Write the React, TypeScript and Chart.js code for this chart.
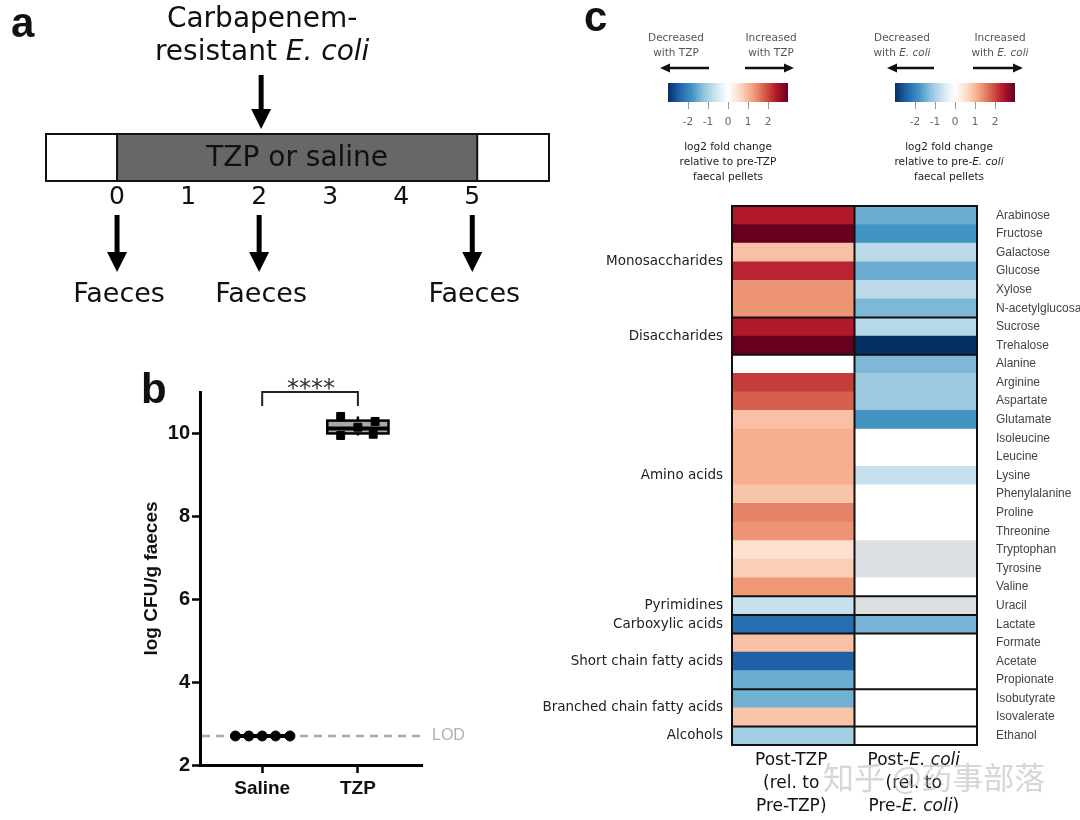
import React, { useEffect, useRef } from 'react';
import { Chart, registerables } from 'chart.js';

Chart.register(...registerables);

// ---------------- Panel a: timeline ----------------
const timelineDays = [-1, 6.08];
const dayTicks = [0, 1, 2, 3, 4, 5];
const treatmentPeriod = [0, 5.07];
const treatmentLabel = 'TZP or saline';
const infectionDay = 2;
const faecesDays = [0, 2, 5];
const faecesLabel = 'Faeces';

// ---------------- Panel b: CFU ----------------
const bGroups = ['Saline', 'TZP'];
const bGroupX = [1, 2];
const salineValues = [2.7, 2.7, 2.7, 2.7, 2.7];
const salineSpread = [-0.28, -0.14, 0, 0.14, 0.29];
const tzpValues = [10.41, 10.29, 10.15, 9.95, 9.98];
const tzpSpread = [-0.18, 0.18, 0, -0.18, 0.16];
// min, q1, median, q3, max
const salineBox = [2.7, 2.7, 2.7, 2.7, 2.7];
const tzpBox = [9.95, 10.0, 10.12, 10.31, 10.41];
const lodLevel = 2.7;
const bYTicks = [2, 4, 6, 8, 10];
const bYRange = [2, 11];
const bXRange = [0.35, 2.67];
const sigLabel = '****';

// ---------------- Panel c: heatmap ----------------
const metabolites = ['Arabinose', 'Fructose', 'Galactose', 'Glucose', 'Xylose', 'N-acetylglucosamine', 'Sucrose', 'Trehalose', 'Alanine', 'Arginine', 'Aspartate', 'Glutamate', 'Isoleucine', 'Leucine', 'Lysine', 'Phenylalanine', 'Proline', 'Threonine', 'Tryptophan', 'Tyrosine', 'Valine', 'Uracil', 'Lactate', 'Formate', 'Acetate', 'Propionate', 'Isobutyrate', 'Isovalerate', 'Ethanol'];
const postTZP = [2.4, 3.0, 0.9, 2.3, 1.35, 1.35, 2.4, 3.0, 0, 2.1, 1.8, 0.9, 1.1, 1.1, 1.1, 0.85, 1.5, 1.35, 0.5, 0.75, 1.3, -0.7, -2.3, 0.9, -2.45, -1.5, -1.45, 0.85, -1.05];
const postEcoli: (number | null)[] = [-1.5, -1.8, -0.8, -1.5, -0.8, -1.35, -0.85, -3.0, -1.35, -1.1, -1.1, -1.8, 0, 0, -0.7, 0, 0, 0, null, null, 0, null, -1.4, 0, 0, 0, 0, 0, 0];
const classNames = ['Monosaccharides', 'Disaccharides', 'Amino acids', 'Pyrimidines', 'Carboxylic acids', 'Short chain fatty acids', 'Branched chain fatty acids', 'Alcohols'];
const classSizes = [6, 2, 13, 1, 1, 3, 2, 1];
const colorbarRange = [-3, 3];
const colorbarTicks = [-2, -1, 0, 1, 2];
const watermark = '知乎 @药事部落';

const RDBU_R = ['#053061', '#2166ac', '#4393c3', '#92c5de', '#d1e5f0', '#ffffff', '#fddbc7', '#f4a582', '#d6604d', '#b2182b', '#67001f'];
const NA_COLOR = '#dde0e3';

const FV = '"DejaVu Sans"';
const FA = '"Liberation Sans"';
const W = 1080;
const H = 820;

function hexToRgb(h: string) {
  const n = parseInt(h.slice(1), 16);
  return [(n >> 16) & 255, (n >> 8) & 255, n & 255];
}
function cmap(v: number | null) {
  if (v === null || v === undefined) return NA_COLOR;
  const t = Math.max(0, Math.min(1, (v - colorbarRange[0]) / (colorbarRange[1] - colorbarRange[0]))) * (RDBU_R.length - 1);
  const i = Math.min(Math.floor(t), RDBU_R.length - 2);
  const f = t - i;
  const a = hexToRgb(RDBU_R[i]);
  const b = hexToRgb(RDBU_R[i + 1]);
  const c = a.map((av, k) => Math.round(av + (b[k] - av) * f));
  return `rgb(${c[0]},${c[1]},${c[2]})`;
}

type Part = [string, boolean?];
function drawParts(ctx: CanvasRenderingContext2D, parts: Part[], x: number, y: number, size: number, family: string, color: string, align: 'center' | 'left' | 'right' = 'center', weight = 'normal') {
  ctx.save();
  ctx.fillStyle = color;
  ctx.textBaseline = 'middle';
  ctx.textAlign = 'left';
  const fonts = parts.map((p) => `${p[1] ? 'italic ' : ''}${weight} ${size}px ${family}`);
  const widths = parts.map((p, i) => {
    ctx.font = fonts[i];
    return ctx.measureText(p[0]).width;
  });
  const total = widths.reduce((a, b) => a + b, 0);
  let cx = align === 'center' ? x - total / 2 : align === 'right' ? x - total : x;
  parts.forEach((p, i) => {
    ctx.font = fonts[i];
    ctx.fillText(p[0], cx, y);
    cx += widths[i];
  });
  ctx.restore();
}

function drawArrow(ctx: CanvasRenderingContext2D, x1: number, y1: number, x2: number, y2: number, shaft: number, headW: number, headL: number, color = '#000') {
  const ang = Math.atan2(y2 - y1, x2 - x1);
  const bx = x2 - Math.cos(ang) * headL;
  const by = y2 - Math.sin(ang) * headL;
  ctx.save();
  ctx.strokeStyle = color;
  ctx.fillStyle = color;
  ctx.lineWidth = shaft;
  ctx.beginPath();
  ctx.moveTo(x1, y1);
  ctx.lineTo(bx + Math.cos(ang), by + Math.sin(ang));
  ctx.stroke();
  const px = -Math.sin(ang) * headW / 2;
  const py = Math.cos(ang) * headW / 2;
  ctx.beginPath();
  ctx.moveTo(x2, y2);
  ctx.lineTo(bx + px, by + py);
  ctx.lineTo(bx - px, by - py);
  ctx.closePath();
  ctx.fill();
  ctx.restore();
}

const baseOpts = {
  responsive: false,
  animation: false,
  events: [],
  plugins: { legend: { display: false }, tooltip: { enabled: false } },
};

// ---------------- Panel a config ----------------
const timelinePlugin = {
  id: 'timeline',
  afterDraw(chart: any) {
    const { ctx, chartArea: ca, scales } = chart;
    const x = scales.x;
    ctx.save();
    ctx.fillStyle = '#fff';
    ctx.fillRect(ca.left, ca.top, ca.right - ca.left, ca.bottom - ca.top);
    const t0 = x.getPixelForValue(treatmentPeriod[0]);
    const t1 = x.getPixelForValue(treatmentPeriod[1]);
    ctx.fillStyle = '#676767';
    ctx.fillRect(t0, ca.top, t1 - t0, ca.bottom - ca.top);
    ctx.strokeStyle = '#111';
    ctx.lineWidth = 2;
    ctx.strokeRect(ca.left, ca.top, ca.right - ca.left, ca.bottom - ca.top);
    ctx.beginPath();
    ctx.moveTo(t0, ca.top);
    ctx.lineTo(t0, ca.bottom);
    ctx.moveTo(t1, ca.top);
    ctx.lineTo(t1, ca.bottom);
    ctx.stroke();
    ctx.restore();
    drawParts(ctx, [[treatmentLabel]], (t0 + t1) / 2, (ca.top + ca.bottom) / 2 + 1, 28, FV, '#111');

    const xi = x.getPixelForValue(infectionDay);
    drawArrow(ctx, xi + 2, ca.top - 59, xi + 2, ca.top - 5, 5, 20, 20);
    drawParts(ctx, [['Carbapenem-']], xi + 3, ca.top - 114, 28, FV, '#111');
    drawParts(ctx, [['resistant '], ['E. coli', true]], xi + 3, ca.top - 81, 28, FV, '#111');

    faecesDays.forEach((d) => {
      const xf = x.getPixelForValue(d);
      drawArrow(ctx, xf, ca.bottom + 34, xf, ca.bottom + 91, 5, 20, 20);
      drawParts(ctx, [[faecesLabel]], xf + 2, ca.bottom + 114, 27, FV, '#111');
    });

    ctx.save();
    ctx.fillStyle = '#111';
    ctx.font = `bold 42px ${FA}`;
    ctx.textBaseline = 'alphabetic';
    ctx.fillText('a', 11, 37);
    ctx.restore();
  },
};

function makeTimeline() {
  return {
    type: 'scatter',
    data: { datasets: [] },
    options: {
      ...baseOpts,
      layout: { padding: { left: 46, right: W - 549, top: 134, bottom: H - 181 - 30 } },
      scales: {
        x: {
          type: 'linear',
          min: timelineDays[0],
          max: timelineDays[1],
          afterBuildTicks: (s: any) => {
            s.ticks = dayTicks.map((v) => ({ value: v }));
          },
          afterFit: (s: any) => {
            s.height = 30;
          },
          grid: { display: false, drawTicks: false },
          border: { display: false },
          ticks: { font: { family: FV, size: 25 }, color: '#111', padding: 1, maxRotation: 0, autoSkip: false },
        },
        y: { type: 'linear', display: false, min: 0, max: 1 },
      },
    },
    plugins: [timelinePlugin],
  };
}

// ---------------- Panel b config ----------------
const cfuPlugin = {
  id: 'cfu',
  beforeDatasetsDraw(chart: any) {
    const { ctx, chartArea: ca, scales } = chart;
    const { x, y } = scales;
    ctx.save();
    const yl = y.getPixelForValue(lodLevel);
    ctx.setLineDash([8, 6]);
    ctx.strokeStyle = '#ababab';
    ctx.lineWidth = 2.5;
    ctx.beginPath();
    ctx.moveTo(ca.left + 2, yl);
    ctx.lineTo(ca.right - 2, yl);
    ctx.stroke();
    ctx.setLineDash([]);
    const boxes = [salineBox, tzpBox];
    boxes.forEach((bx, gi) => {
      const cx = bGroupX[gi];
      const xl = x.getPixelForValue(cx - 0.32);
      const xr = x.getPixelForValue(cx + 0.32);
      const xc = x.getPixelForValue(cx);
      const [mn, q1, md, q3, mx] = bx.map((v) => y.getPixelForValue(v));
      ctx.strokeStyle = '#000';
      ctx.lineWidth = 2.5;
      ctx.beginPath();
      ctx.moveTo(xc, q3);
      ctx.lineTo(xc, mx);
      ctx.moveTo(xc, q1);
      ctx.lineTo(xc, mn);
      ctx.stroke();
      ctx.fillStyle = '#a9a9a9';
      ctx.fillRect(xl, q3, xr - xl, q1 - q3);
      ctx.strokeRect(xl, q3, xr - xl, q1 - q3);
      ctx.lineWidth = 4;
      ctx.beginPath();
      ctx.moveTo(xl, md);
      ctx.lineTo(xr, md);
      ctx.stroke();
    });
    ctx.restore();
  },
  afterDraw(chart: any) {
    const { ctx, chartArea: ca, scales } = chart;
    const { x, y } = scales;
    const x1 = x.getPixelForValue(bGroupX[0]);
    const x2 = x.getPixelForValue(bGroupX[1]);
    const yb = y.getPixelForValue(bYRange[1]);
    ctx.save();
    ctx.strokeStyle = '#222';
    ctx.lineWidth = 2;
    ctx.beginPath();
    ctx.moveTo(x1, yb + 14);
    ctx.lineTo(x1, yb);
    ctx.lineTo(x2, yb);
    ctx.lineTo(x2, yb + 14);
    ctx.stroke();
    ctx.fillStyle = '#333';
    ctx.font = `24px ${FV}`;
    ctx.textAlign = 'center';
    ctx.textBaseline = 'alphabetic';
    ctx.fillText(sigLabel, (x1 + x2) / 2 + 1, yb + 4);
    ctx.textAlign = 'left';
    ctx.textBaseline = 'middle';
    ctx.fillStyle = '#b0b0b0';
    ctx.font = `16px ${FA}`;
    ctx.fillText('LOD', ca.right + 10, y.getPixelForValue(lodLevel));
    ctx.fillStyle = '#111';
    ctx.font = `bold 42px ${FA}`;
    ctx.textBaseline = 'alphabetic';
    ctx.fillText('b', 141, 403);
    ctx.restore();
  },
};

function makeCFU() {
  const tickFont = { family: FA, size: 20, weight: 'bold' };
  return {
    type: 'scatter',
    data: {
      datasets: [
        {
          data: salineValues.map((v, i) => ({ x: bGroupX[0] + salineSpread[i], y: v })),
          pointStyle: 'circle',
          pointRadius: 5,
          backgroundColor: '#000',
          borderColor: '#000',
          borderWidth: 1,
          clip: false,
        },
        {
          data: tzpValues.map((v, i) => ({ x: bGroupX[1] + tzpSpread[i], y: v })),
          pointStyle: 'rect',
          pointRadius: 5.6,
          backgroundColor: '#000',
          borderColor: '#000',
          borderWidth: 1,
          clip: false,
        },
      ],
    },
    options: {
      ...baseOpts,
      layout: { padding: { left: 200 - 59.4, right: W - 422, top: 392, bottom: H - 765 - 40 } },
      scales: {
        x: {
          type: 'linear',
          min: bXRange[0],
          max: bXRange[1],
          afterBuildTicks: (s: any) => {
            s.ticks = bGroupX.map((v) => ({ value: v }));
          },
          afterFit: (s: any) => {
            s.height = 40;
          },
          ticks: {
            callback: (v: number) => {
              const i = bGroupX.indexOf(v);
              return i >= 0 ? bGroups[i] : '';
            },
            font: { family: FA, size: 19, weight: 'bold' },
            color: '#111',
            padding: 4,
            maxRotation: 0,
            autoSkip: false,
          },
          grid: { drawOnChartArea: false, drawTicks: true, tickLength: 8, tickWidth: 2.5, tickColor: '#000', color: '#000' },
          border: { color: '#000', width: 3 },
        },
        y: {
          type: 'linear',
          min: bYRange[0],
          max: bYRange[1],
          afterBuildTicks: (s: any) => {
            s.ticks = bYTicks.map((v) => ({ value: v }));
          },
          afterFit: (s: any) => {
            s.width = 59.4;
          },
          ticks: { font: tickFont, color: '#111', padding: 2 },
          grid: { drawOnChartArea: false, drawTicks: true, tickLength: 8, tickWidth: 2.5, tickColor: '#000', color: '#000' },
          border: { color: '#000', width: 3 },
          title: {
            display: true,
            text: 'log CFU/g faeces',
            font: { family: FA, size: 19, weight: 'bold' },
            color: '#111',
            padding: { top: 0, bottom: 0 },
          },
        },
      },
    },
    plugins: [cfuPlugin],
  };
}

// ---------------- Colorbars ----------------
type CbText = {
  dec: Part[][];
  inc: Part[][];
  label: Part[][];
  decDx: number;
  incDx: number;
  arrL: [number, number];
  arrR: [number, number];
  labelDx: number;
  showC: boolean;
};

function colorbarPlugin(t: CbText) {
  return {
    id: 'cbText',
    afterDraw(chart: any) {
      const { ctx, chartArea: ca } = chart;
      const cx = (ca.left + ca.right) / 2;
      t.dec.forEach((ln, i) => drawParts(ctx, ln, cx + t.decDx, 38 + i * 15, 10.5, FV, '#555'));
      t.inc.forEach((ln, i) => drawParts(ctx, ln, cx + t.incDx, 38 + i * 15, 10.5, FV, '#555'));
      drawArrow(ctx, cx + t.arrL[0], 68, cx + t.arrL[1], 68, 2.5, 9, 10, '#111');
      drawArrow(ctx, cx + t.arrR[0], 68, cx + t.arrR[1], 68, 2.5, 9, 10, '#111');
      t.label.forEach((ln, i) => drawParts(ctx, ln, cx + t.labelDx, 147 + i * 15, 10.5, FV, '#222'));
      if (t.showC) {
        ctx.save();
        ctx.fillStyle = '#111';
        ctx.font = `bold 42px ${FA}`;
        ctx.textBaseline = 'alphabetic';
        ctx.fillText('c', 584, 31);
        ctx.restore();
      }
    },
  };
}

function makeColorbar(left: number, right: number, t: CbText) {
  return {
    type: 'bar',
    data: {
      labels: [''],
      datasets: [
        {
          data: [[colorbarRange[0], colorbarRange[1]]],
          backgroundColor: (c: any) => {
            const chart = c.chart;
            const xs = chart.scales && chart.scales.x;
            if (!chart.chartArea || !xs) return '#ccc';
            const g = chart.ctx.createLinearGradient(xs.getPixelForValue(colorbarRange[0]), 0, xs.getPixelForValue(colorbarRange[1]), 0);
            RDBU_R.forEach((col, i) => g.addColorStop(i / (RDBU_R.length - 1), col));
            return g;
          },
          borderWidth: 0,
          barPercentage: 1,
          categoryPercentage: 1,
        },
      ],
    },
    options: {
      ...baseOpts,
      indexAxis: 'y',
      layout: { padding: { left, right: W - right, top: 83, bottom: H - 102 - 30 } },
      scales: {
        x: {
          type: 'linear',
          min: colorbarRange[0],
          max: colorbarRange[1],
          afterBuildTicks: (s: any) => {
            s.ticks = colorbarTicks.map((v) => ({ value: v }));
          },
          afterFit: (s: any) => {
            s.height = 30;
          },
          grid: { drawOnChartArea: false, drawTicks: true, tickLength: 7, color: '#999', lineWidth: 1 },
          border: { display: false },
          ticks: { font: { family: FV, size: 10.5 }, color: '#666', padding: 7 },
        },
        y: { display: false },
      },
    },
    plugins: [colorbarPlugin(t)],
  };
}

const cbLeftText: CbText = {
  dec: [[['Decreased']], [['with TZP']]],
  inc: [[['Increased']], [['with TZP']]],
  label: [[['log2 fold change']], [['relative to pre-TZP']], [['faecal pellets']]],
  decDx: -52,
  incDx: 43,
  arrL: [-19, -68],
  arrR: [17, 66],
  labelDx: 0,
  showC: true,
};
const cbRightText: CbText = {
  dec: [[['Decreased']], [['with '], ['E. coli', true]]],
  inc: [[['Increased']], [['with '], ['E. coli', true]]],
  label: [[['log2 fold change']], [['relative to pre-'], ['E. coli', true]], [['faecal pellets']]],
  decDx: -53,
  incDx: 45,
  arrL: [-21, -68],
  arrR: [18, 68],
  labelDx: -6,
  showC: false,
};

// ---------------- Heatmap ----------------
const heatPlugin = {
  id: 'heat',
  afterDraw(chart: any) {
    const { ctx, chartArea: ca, scales } = chart;
    const { x, y } = scales;
    const rowH = Math.abs(y.getPixelForValue(1) - y.getPixelForValue(0));
    const top = y.getPixelForValue(0) - rowH / 2;
    ctx.save();
    ctx.strokeStyle = '#111';
    ctx.lineWidth = 2;
    ctx.strokeRect(ca.left, top, ca.right - ca.left, rowH * metabolites.length);
    ctx.beginPath();
    const xm = x.getPixelForValue(1);
    ctx.moveTo(xm, top);
    ctx.lineTo(xm, top + rowH * metabolites.length);
    let start = 0;
    const centers: number[] = [];
    classSizes.forEach((n) => {
      const y0 = y.getPixelForValue(start) - rowH / 2;
      const y1 = y.getPixelForValue(start + n - 1) + rowH / 2;
      centers.push((y0 + y1) / 2);
      if (start > 0) {
        ctx.moveTo(ca.left, y0);
        ctx.lineTo(ca.right, y0);
      }
      start += n;
    });
    ctx.stroke();
    ctx.restore();
    classNames.forEach((nm, i) => drawParts(ctx, [[nm]], ca.left - 9, centers[i], 13.5, FV, '#222', 'right'));

    const bottom = top + rowH * metabolites.length;
    const c1 = x.getPixelForValue(0.5) - 2;
    const c2 = x.getPixelForValue(1.5) - 2;
    const col1: Part[][] = [[['Post-TZP']], [['(rel. to']], [['Pre-TZP)']]];
    const col2: Part[][] = [[['Post-'], ['E. coli', true]], [['(rel. to']], [['Pre-'], ['E. coli', true], [')']]];
    col1.forEach((ln, i) => drawParts(ctx, ln, c1, bottom + 16 + i * 23, 17, FV, '#111'));
    col2.forEach((ln, i) => drawParts(ctx, ln, c2, bottom + 16 + i * 23, 17, FV, '#111'));

    ctx.save();
    ctx.font = `31px "Noto Sans CJK SC"`;
    ctx.textBaseline = 'middle';
    ctx.fillStyle = 'rgba(165,165,165,0.45)';
    ctx.fillText(watermark, 823, 777);
    ctx.restore();
  },
};

function makeHeatmap() {
  return {
    type: 'bar',
    data: {
      labels: metabolites,
      datasets: [
        {
          label: 'Post-TZP',
          data: metabolites.map(() => [0, 1]),
          backgroundColor: postTZP.map(cmap),
          borderWidth: 0,
          barPercentage: 1,
          categoryPercentage: 1,
          grouped: false,
        },
        {
          label: 'Post-E. coli',
          data: metabolites.map(() => [1, 2]),
          backgroundColor: postEcoli.map(cmap),
          borderWidth: 0,
          barPercentage: 1,
          categoryPercentage: 1,
          grouped: false,
        },
      ],
    },
    options: {
      ...baseOpts,
      indexAxis: 'y',
      layout: { padding: { left: 732, right: 0, top: 206, bottom: H - 745 } },
      scales: {
        x: { type: 'linear', min: 0, max: 2, display: false },
        y: {
          type: 'category',
          position: 'right',
          afterFit: (s: any) => {
            s.width = W - 977;
          },
          grid: { display: false, drawTicks: false },
          border: { display: false },
          ticks: { font: { family: FA, size: 12 }, color: '#444', padding: 19, autoSkip: false },
        },
      },
    },
    plugins: [heatPlugin],
  };
}

function ChartLayer({ make }: { make: () => any }) {
  const ref = useRef<HTMLCanvasElement>(null);
  useEffect(() => {
    const chart = new Chart(ref.current as HTMLCanvasElement, make());
    return () => chart.destroy();
  }, [make]);
  return <canvas ref={ref} width={W} height={H} style={{ position: 'absolute', left: 0, top: 0, width: W, height: H }} />;
}

const makeCbLeft = () => makeColorbar(668, 788, cbLeftText);
const makeCbRight = () => makeColorbar(895, 1015, cbRightText);

export default function App() {
  return (
    <div style={{ position: 'absolute', left: 0, top: 0, width: W, height: H, background: '#fff', overflow: 'hidden' }}>
      <ChartLayer make={makeTimeline} />
      <ChartLayer make={makeCFU} />
      <ChartLayer make={makeCbLeft} />
      <ChartLayer make={makeCbRight} />
      <ChartLayer make={makeHeatmap} />
    </div>
  );
}
